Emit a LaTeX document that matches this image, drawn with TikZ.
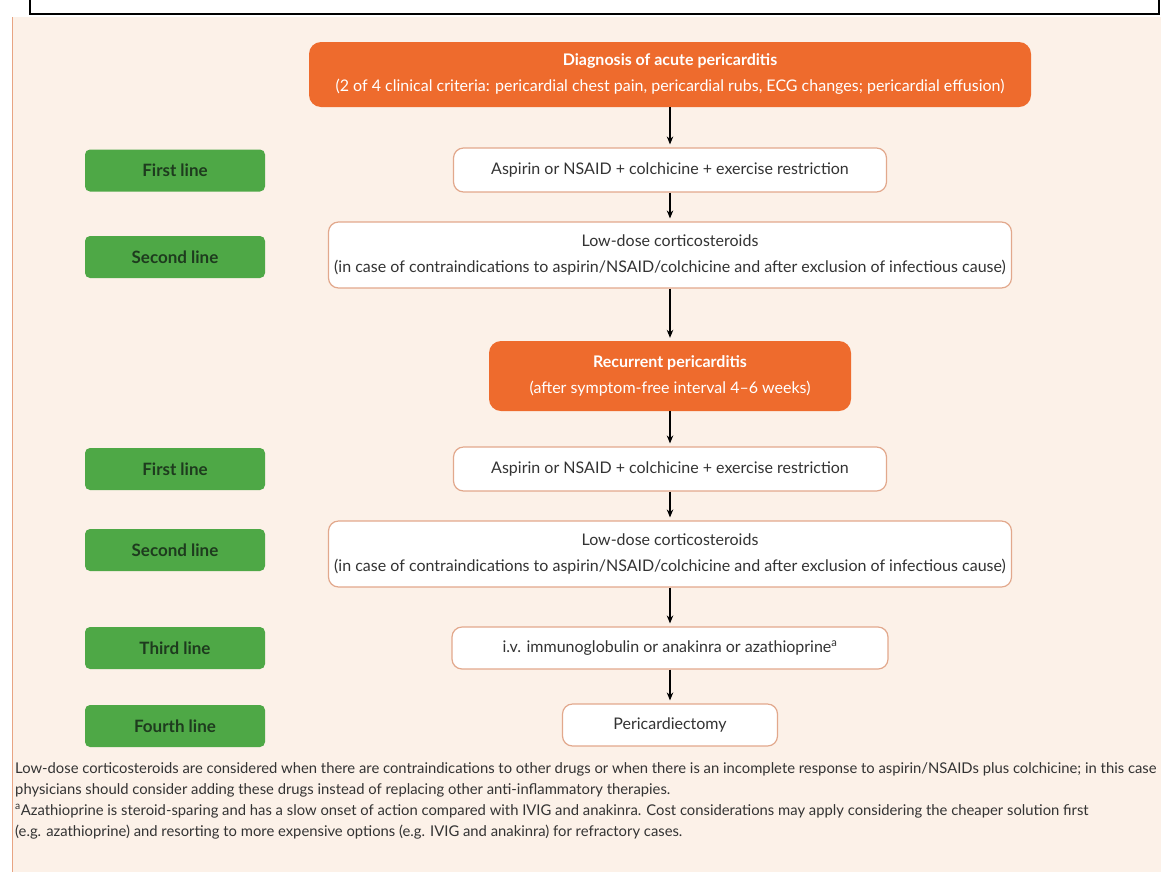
\documentclass[tikz,border=0pt]{standalone}
\usepackage{fontspec}
\setmainfont{Lato}
\usetikzlibrary{arrows.meta}

\definecolor{panelbg}{HTML}{FCF1E8}
\definecolor{panelrule}{HTML}{E8A482}
\definecolor{stageorange}{HTML}{EE6B2D}
\definecolor{linegreen}{HTML}{4EA846}
\definecolor{labeldark}{HTML}{1E3B1E}
\definecolor{boxrule}{HTML}{E2A88C}
\definecolor{notegray}{HTML}{333333}

\begin{document}
\begin{tikzpicture}[x=1pt, y=-1pt,
  stage/.style={fill=stageorange, rounded corners=12pt, text=white, align=center,
    font=\fontsize{16}{26}\selectfont},
  treat/.style={draw=boxrule, line width=1.2pt, fill=white, rounded corners=10pt,
    align=center, text=notegray, font=\fontsize{16}{26}\selectfont},
  tier/.style={fill=linegreen, rounded corners=5pt, minimum width=180pt,
    minimum height=42pt, text=labeldark, font=\fontsize{17}{19}\selectfont\bfseries},
  flow/.style={-{Stealth[length=8pt, width=6.5pt]}, line width=1.1pt, shorten >=3pt}
]
\useasboundingbox (0,0) rectangle (1161,871);

% Frame and panel
\draw[line width=2pt, fill=white] (30,-10) rectangle (1159,14);
\fill[panelbg] (12,17) rectangle (1175,885);
\draw[panelrule, line width=1.5pt] (12.5,17) -- (12.5,885);

% Acute pericarditis
\node[stage, minimum width=722pt, minimum height=65pt] (diag) at (670,74.5)
  {\textbf{Diagnosis of acute pericarditis}\\(2 of 4 clinical criteria: pericardial chest pain, pericardial rubs, ECG changes; pericardial effusion)};
\node[treat, minimum width=433pt, minimum height=44pt] (acutefirst) at (670,170)
  {Aspirin or NSAID + colchicine + exercise restriction};
\node[treat, minimum width=683pt, minimum height=66pt] (acutesecond) at (670,255)
  {Low-dose corticosteroids\\(in case of contraindications to aspirin/NSAID/colchicine and after exclusion of infectious cause)};

% Recurrent pericarditis
\node[stage, minimum width=362pt, minimum height=70pt] (recur) at (670,376)
  {\textbf{Recurrent pericarditis}\\(after symptom-free interval 4--6 weeks)};
\node[treat, minimum width=433pt, minimum height=44pt] (recfirst) at (670,469)
  {Aspirin or NSAID + colchicine + exercise restriction};
\node[treat, minimum width=683pt, minimum height=66pt] (recsecond) at (670,554)
  {Low-dose corticosteroids\\(in case of contraindications to aspirin/NSAID/colchicine and after exclusion of infectious cause)};
\node[treat, minimum width=436pt, minimum height=42pt] (recthird) at (670,648)
  {i.v. immunoglobulin or anakinra or azathioprine\textsuperscript{a}};
\node[treat, minimum width=215pt, minimum height=42pt] (recfourth) at (670,725)
  {Pericardiectomy};

% Therapy lines
\node[tier] (tierA) at (175,170.5) {First line};
\node[tier] (tierB) at (175,257) {Second line};
\node[tier] (tierC) at (175,469) {First line};
\node[tier] (tierD) at (175,550) {Second line};
\node[tier] (tierE) at (175,648) {Third line};
\node[tier] (tierF) at (175,726) {Fourth line};

% Arrows
\draw[flow] (diag) -- (acutefirst);
\draw[flow] (acutefirst) -- (acutesecond);
\draw[flow] (acutesecond) -- (recur);
\draw[flow] (recur) -- (recfirst);
\draw[flow] (recfirst) -- (recsecond);
\draw[flow] (recsecond) -- (recthird);
\draw[flow] (recthird) -- (recfourth);

% Footnotes
\node[anchor=north west, align=left, inner sep=0pt, text=notegray,
  font=\fontsize{14.8}{21}\selectfont] (notes) at (15,762)
  {Low-dose corticosteroids are considered when there are contraindications to other drugs or when there is an incomplete response to aspirin/NSAIDs plus colchicine; in this case\\
   physicians should consider adding these drugs instead of replacing other anti-inflammatory therapies.\\
   \textsuperscript{a}Azathioprine is steroid-sparing and has a slow onset of action compared with IVIG and anakinra. Cost considerations may apply considering the cheaper solution first\\
   (e.g. azathioprine) and resorting to more expensive options (e.g. IVIG and anakinra) for refractory cases.};

\end{tikzpicture}
\end{document}
